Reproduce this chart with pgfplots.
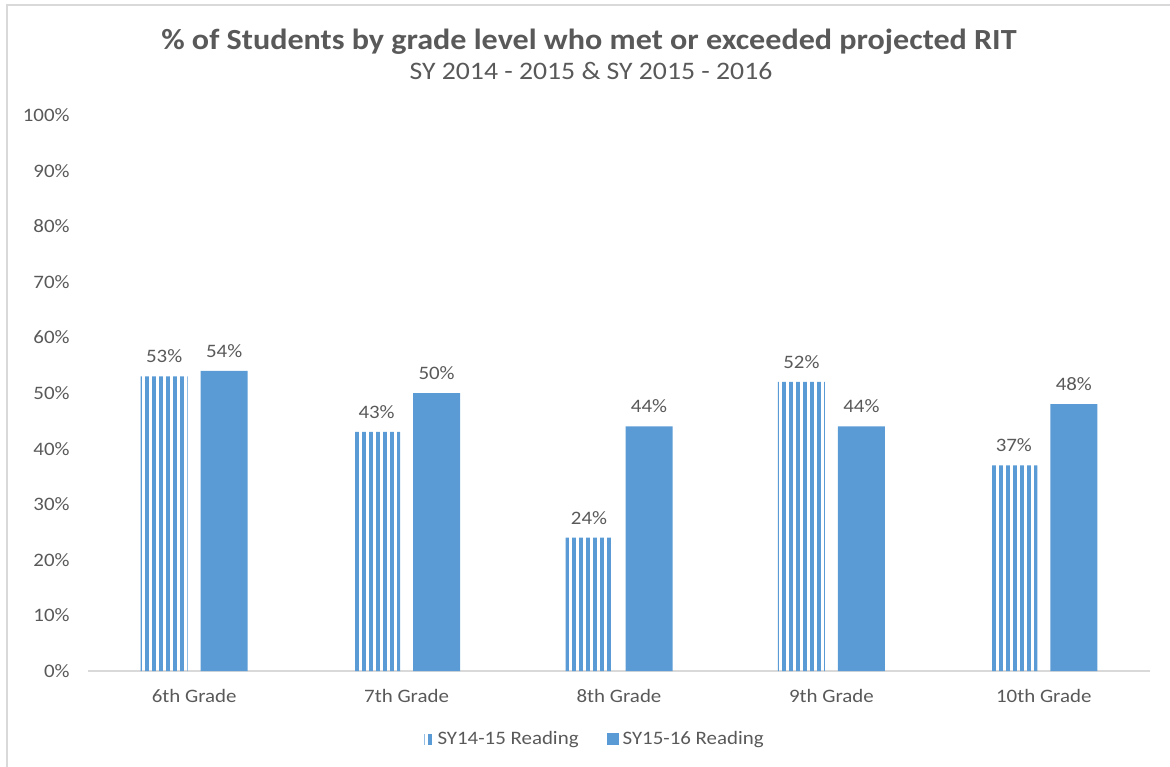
\documentclass[border=0pt]{standalone}
\usepackage{fontspec}
\setmainfont{Carlito}[FakeStretch=1.1]
\usepackage{pgfplots}
\pgfplotsset{compat=1.18}
\usetikzlibrary{patterns}

\definecolor{barblue}{HTML}{5B9BD5}
\definecolor{txtgray}{HTML}{595959}
\definecolor{axisgray}{HTML}{D9D9D9}

% vertical stripes, 4px blue / 3px white
\pgfdeclarepatternformonly{vstripes}{\pgfpointorigin}{\pgfpoint{3.45pt}{3.45pt}}{\pgfpoint{3.45pt}{3.45pt}}{%
  \pgfpathrectangle{\pgfpointorigin}{\pgfpoint{2pt}{3.45pt}}\pgfusepath{fill}}

\begin{document}
\begin{tikzpicture}
\path[use as bounding box] (-44pt,-47.5pt) rectangle (541pt,335.5pt);
\draw[axisgray, line width=1pt] (-40.5pt,-48pt) -- (-40.5pt,333pt) -- (542pt,333pt);

\begin{axis}[
    scale only axis,
    width=531pt, height=278pt,
    ybar,
    bar width=23.5pt,
    xmin=-0.5, xmax=4.5,
    ymin=0, ymax=100,
    xtick={0,1,2,3,4},
    xticklabels={6th Grade, 7th Grade, 8th Grade, 9th Grade, 10th Grade},
    ytick={0,10,...,100},
    yticklabels={0\%,10\%,20\%,30\%,40\%,50\%,60\%,70\%,80\%,90\%,100\%},
    axis lines*=left,
    x axis line style={draw=axisgray, line width=1pt},
    y axis line style={draw=none},
    major tick length=0pt,
    tick label style={font=\fontsize{9.5}{11}\selectfont, text=txtgray},
    yticklabel style={anchor=east, inner sep=0pt, xshift=-9pt},
    xticklabel style={anchor=north, inner sep=0pt, yshift=-9pt},
    nodes near coords={\pgfmathprintnumber[assume math mode=true]{\pgfplotspointmeta}\%},
    every node near coord/.append style={font=\fontsize{9.5}{11}\selectfont, text=txtgray, anchor=south, inner sep=0pt, yshift=6.5pt},
    legend style={at={(254pt,-34pt)}, anchor=center, draw=none, fill=none,
        legend columns=2, font=\fontsize{9.5}{11}\selectfont, text=txtgray,
        /tikz/every even column/.append style={column sep=12pt}},
    legend cell align=left,
    clip=false,
]
\addplot[draw=none, pattern=vstripes, pattern color=barblue, bar shift=-15pt,
    legend image code/.code={\fill[pattern=vstripes, pattern color=barblue] (0pt,-2.5pt) rectangle (4.6pt,2.5pt);}]
    coordinates {(0,53) (1,43) (2,24) (3,52) (4,37)};
\addlegendentry{SY14-15 Reading}
\addplot[draw=none, fill=barblue, bar shift=15pt,
    legend image code/.code={\fill[barblue] (0pt,-2.8pt) rectangle (6pt,2.8pt);}]
    coordinates {(0,54) (1,50) (2,44) (3,44) (4,48)};
\addlegendentry{SY15-16 Reading}
\end{axis}

\node[anchor=base, text=txtgray, font=\fontsize{14.6}{16}\selectfont\bfseries] at (250.5pt,310.5pt)
    {\% of Students by grade level who met or exceeded projected RIT};
\node[anchor=base, text=txtgray, font=\fontsize{12.6}{14}\selectfont] at (251.5pt,295.5pt)
    {SY 2014 - 2015 \& SY 2015 - 2016};
\end{tikzpicture}
\end{document}
